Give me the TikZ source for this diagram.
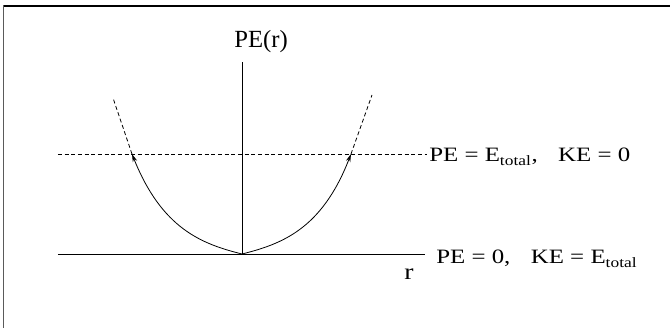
\documentclass[tikz,border=0pt]{standalone}
\usepackage{fontspec}
\setmainfont{Liberation Serif}
\newfontfamily\widefont{Liberation Serif}[FakeStretch=1.22]
\usetikzlibrary{arrows.meta,positioning,calc}
\definecolor{ink}{HTML}{000000}
\definecolor{rim}{HTML}{5A5A5A}
\tikzset{
axisline/.style={draw=ink,line width=.65pt},
guide/.style={draw=ink,line width=.6pt,dash pattern=on 3pt off 2pt},
branch/.style={draw=ink,line width=.6pt,-{Stealth[length=6pt,width=3.4pt]}},
overshoot/.style={draw=ink,line width=.6pt,dash pattern=on 3pt off 2pt},
lbl/.style={font=\widefont\fontsize{15.3}{17}\selectfont,inner sep=0pt,anchor=base west},
axislbl/.style={font=\fontsize{18.5}{20}\selectfont,inner sep=0pt,anchor=base}}

\begin{document}
\begin{tikzpicture}[x=0.75pt,y=0.75pt]
\useasboundingbox (-242,-74) rectangle (428,254);
% frame (top and left edge only)
\draw[ink,line width=1.1pt] (-238.5,248) -- (428,248);
\draw[rim,line width=1.4pt] (-238.5,248.5) -- (-238.5,-74);
% axes
\coordinate (O) at (0,0);
\coordinate (xl) at (-184,0);
\coordinate (xr) at (183,0);
\coordinate (yt) at (0,192);
\coordinate (dl) at (-184,100);
\coordinate (dr) at (185,100);
\coordinate (Lhit) at (-110,100);
\coordinate (Rhit) at (109,100);
\coordinate (Ltop) at (-129,156);
\coordinate (Rtop) at (130,159);
\node[axislbl] (pelbl) at (19,206) {PE(r)};
\node[axislbl,font=\widefont\fontsize{17}{19}\selectfont] (rlbl) at (167,-26) {r};
\node[lbl] (totlbl) at (187,92) {PE = E\textsubscript{total},\quad KE = 0};
\node[lbl] (zerolbl) at (194,-10) {PE = 0,\quad KE = E\textsubscript{total}};
\draw[axisline] (xl) -- (xr);
\draw[axisline] (O) -- (yt);
\draw[guide] (dl) -- (dr);
% potential curve
\draw[branch] (O) .. controls (-40,10) and (-80,25) .. (Lhit);
\draw[branch] (O) .. controls (40,10) and (80,25) .. (Rhit);
\draw[overshoot] (Lhit) -- (Ltop);
\draw[overshoot] (Rhit) -- (Rtop);
\end{tikzpicture}
\end{document}
